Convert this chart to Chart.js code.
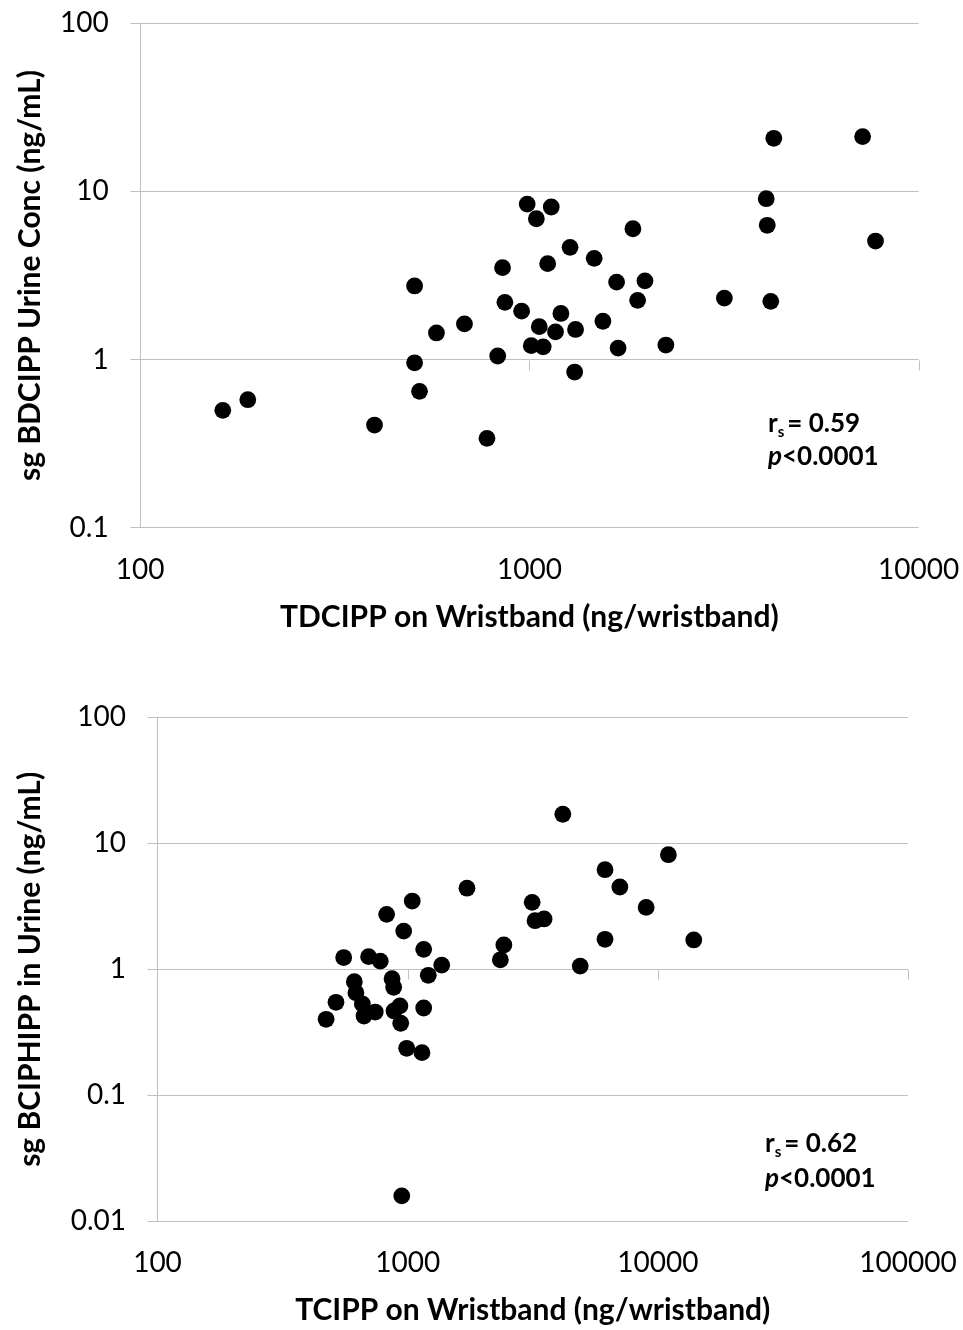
<!DOCTYPE html>
<html>
<head>
<meta charset="utf-8">
<script src="https://cdn.jsdelivr.net/npm/chart.js@4.4.0/dist/chart.umd.min.js"></script>
<style>
  html, body { margin: 0; padding: 0; background: #fff; }
  .wrap { position: absolute; left: 0; width: 963px; }
</style>
</head>
<body>
<div class="wrap" style="top:0;height:660px"><canvas id="topChart"></canvas></div>
<div class="wrap" style="top:660px;height:670px"><canvas id="bottomChart"></canvas></div>
<script>
// --- Data: top panel (TDCIPP wristband vs BDCIPP urine) ---
const tdcippWristband = [4246, 7180, 4060, 4084, 7750, 987, 1138, 1042, 1845, 1272,
  1467, 853, 1114, 507, 1675, 1981, 1897, 3169, 4170, 865,
  955, 1205, 681, 577, 1060, 1167, 1314, 1545, 1011, 1085,
  1690, 2242, 829, 507, 1307, 522, 189, 163, 400, 778];
const bdcippUrine = [20.7, 21.2, 9.05, 6.29, 5.07, 8.41, 8.08, 6.88, 6.0, 4.65,
  4.0, 3.52, 3.72, 2.74, 2.89, 2.94, 2.25, 2.32, 2.22, 2.19,
  1.94, 1.88, 1.63, 1.44, 1.57, 1.46, 1.51, 1.69, 1.21, 1.19,
  1.17, 1.22, 1.05, 0.957, 0.843, 0.647, 0.577, 0.499, 0.408, 0.340];
const topXTicks = [100, 1000, 10000];
const topYTicks = [0.1, 1, 10, 100];

// --- Data: bottom panel (TCIPP wristband vs BCIPHIPP urine) ---
const tcippWristband = [4170, 11020, 6150, 7050, 1726, 1043, 824, 3145, 3230, 3510,
  8980, 964, 6150, 13920, 2424, 1159, 2347, 555, 698, 777,
  1368, 4895, 1209, 866, 879, 612, 621, 517, 659, 742,
  669, 931, 882, 1159, 938, 472, 991, 1141, 947];
const bciphippUrine = [17.0, 8.12, 6.17, 4.50, 4.40, 3.48, 2.73, 3.40, 2.43, 2.51,
  3.10, 2.01, 1.73, 1.71, 1.56, 1.44, 1.19, 1.24, 1.26, 1.16,
  1.08, 1.06, 0.896, 0.842, 0.720, 0.797, 0.652, 0.547, 0.531, 0.458,
  0.426, 0.512, 0.467, 0.493, 0.373, 0.401, 0.236, 0.218, 0.0159];
const bottomXTicks = [100, 1000, 10000, 100000];
const bottomYTicks = [0.01, 0.1, 1, 10, 100];

const FONT = "Lato, 'Liberation Sans', sans-serif";
const GRID = '#c0c0c0';

// x axis crosses at y = 1 (Excel style) with short tick marks below it,
// plus the Spearman text block
const crossAxis = {
    id: 'crossAxis',
    beforeDatasetsDraw(chart, args, opts) {
        const { ctx, scales: { x, y } } = chart;
        const yPix = Math.round(y.getPixelForValue(1)) + 0.5;
        ctx.save();
        ctx.strokeStyle = GRID;
        ctx.lineWidth = 1;
        ctx.beginPath();
        opts.ticks.slice(1).forEach(v => {
            const px = Math.round(x.getPixelForValue(v)) + 0.5;
            ctx.moveTo(px, yPix);
            ctx.lineTo(px, yPix + 10);
        });
        ctx.stroke();
        ctx.restore();
    },
    afterDraw(chart, args, opts) {
        const { ctx } = chart;
        const s = opts.stats;
        ctx.save();
        ctx.fillStyle = '#000';
        ctx.textBaseline = 'alphabetic';
        ctx.font = `bold 26px ${FONT}`;
        ctx.fillText('r', s.x, s.y1);
        const wr = ctx.measureText('r').width;
        ctx.font = `bold 15px ${FONT}`;
        ctx.fillText('s', s.x + wr, s.y1 + 5);
        const ws = ctx.measureText('s').width;
        ctx.font = `bold 26px ${FONT}`;
        ctx.fillText('= ' + s.r, s.x + wr + ws + 3, s.y1);
        ctx.font = `italic bold 26px ${FONT}`;
        ctx.fillText('p', s.x, s.y2);
        const wp = ctx.measureText('p').width;
        ctx.font = `bold 26px ${FONT}`;
        ctx.fillText('<0.0001', s.x + wp, s.y2);
        ctx.restore();
    }
};

function renderPanel(id, xs, ys, xTicks, yTicks, xTitle, yTitle, cfg) {
    const ctx = document.getElementById(id);
    new Chart(ctx, {
        type: 'scatter',
        data: {
            datasets: [{
                data: xs.map((v, i) => ({ x: v, y: ys[i] })),
                backgroundColor: '#000',
                borderWidth: 0,
                pointRadius: 8.4,
                pointHoverRadius: 8.4
            }]
        },
        options: {
            responsive: true,
            maintainAspectRatio: false,
            animation: false,
            layout: { padding: cfg.padding },
            plugins: {
                legend: { display: false },
                tooltip: { enabled: false },
                crossAxis: { ticks: xTicks, stats: cfg.stats }
            },
            scales: {
                x: {
                    type: 'logarithmic',
                    min: xTicks[0],
                    max: xTicks[xTicks.length - 1],
                    afterBuildTicks: s => { s.ticks = xTicks.map(v => ({ value: v })); },
                    afterFit: s => {
                        s.height = cfg.xAxisHeight;
                        s.paddingLeft = 0;
                        s.paddingRight = 0;
                    },
                    grid: { display: false, drawTicks: false },
                    border: { display: false },
                    ticks: {
                        font: { family: FONT, size: 28 },
                        color: '#000',
                        padding: 25,
                        maxRotation: 0,
                        autoSkip: false,
                        callback: v => String(v)
                    },
                    title: {
                        display: true,
                        text: xTitle,
                        color: '#000',
                        font: { family: FONT, size: 30, weight: 'bold' },
                        padding: { top: 0, bottom: cfg.xTitlePad }
                    }
                },
                y: {
                    type: 'logarithmic',
                    min: yTicks[0],
                    max: yTicks[yTicks.length - 1],
                    afterBuildTicks: s => { s.ticks = yTicks.map(v => ({ value: v })); },
                    afterFit: s => {
                        s.width = cfg.yAxisWidth;
                        s.paddingTop = 0;
                        s.paddingBottom = 0;
                    },
                    grid: { color: GRID, lineWidth: 1, drawTicks: true, tickLength: 10 },
                    border: { display: true, color: GRID },
                    ticks: {
                        font: { family: FONT, size: 28 },
                        color: '#000',
                        padding: 21.5,
                        autoSkip: false,
                        callback: v => String(v)
                    },
                    title: {
                        display: true,
                        text: yTitle,
                        color: '#000',
                        font: { family: FONT, size: 30, weight: 'bold' },
                        padding: { top: 12, bottom: 0 }
                    }
                }
            }
        },
        plugins: [crossAxis]
    });
}

renderPanel('topChart', tdcippWristband, bdcippUrine, topXTicks, topYTicks,
    'TDCIPP on Wristband (ng/wristband)', 'sg BDCIPP Urine Conc (ng/mL)', {
        padding: { top: 23.3, right: 44.4, left: 0, bottom: 0 },
        yAxisWidth: 140.2,
        xAxisHeight: 132.3,
        xTitlePad: 25,
        stats: { r: '0.59', x: 768, y1: 432, y2: 465 }
    });

renderPanel('bottomChart', tcippWristband, bciphippUrine, bottomXTicks, bottomYTicks,
    'TCIPP on Wristband (ng/wristband)', 'sg BCIPHIPP in Urine (ng/mL)', {
        padding: { top: 57.3, right: 55, left: 0, bottom: 0 },
        yAxisWidth: 157.5,
        xAxisHeight: 108.7,
        xTitlePad: 1.5,
        stats: { r: '0.62', x: 765, y1: 492, y2: 527 }
    });
</script>
</body>
</html>
